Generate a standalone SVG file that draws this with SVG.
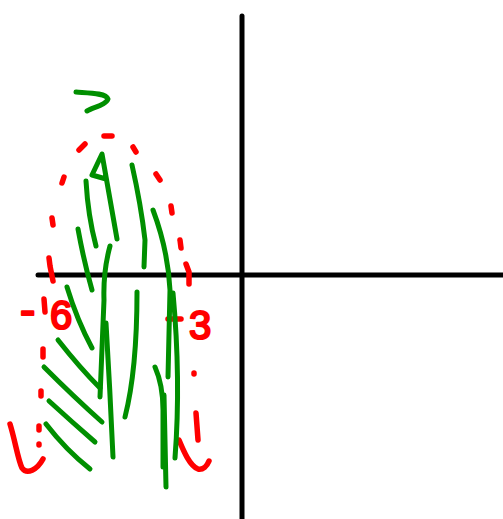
<svg xmlns="http://www.w3.org/2000/svg" width="503" height="519" viewBox="0 0 503 519">
<style>
.ax{stroke:#000;stroke-width:5;stroke-linecap:round;fill:none}
.r{stroke:#ff0000;stroke-width:5.5;stroke-linecap:round;stroke-linejoin:round;fill:none}
.g{stroke:#008f00;stroke-width:5;stroke-linecap:round;stroke-linejoin:round;fill:none}
.t{fill:#ff0000;stroke:#ff0000;stroke-width:2.2;stroke-linejoin:round;font-family:"Liberation Sans",Arial,sans-serif;font-size:40px}
</style>
<rect width="503" height="519" fill="#fff"/>
<g id="axes">
<line class="ax" x1="242" y1="16" x2="242" y2="519"/>
<line class="ax" x1="38" y1="275" x2="503" y2="275"/>
</g>
<g id="parabola">
<path class="r" d="M104,136 L112,136"/>
<path class="r" d="M79,150 L85,144"/>
<path class="r" d="M62,183 L64,177"/>
<path class="r" d="M52,218 L53,225"/>
<path class="r" d="M49,258 L50,266 L53,281"/>
<path class="r" d="M44,299 L45,312"/>
<path class="r" d="M43,349 L43,357"/>
<path class="r" d="M41,391 L41,396"/>
<path class="r" d="M39,426 L39,430"/>
<path class="r" d="M39,444 L39,445"/>
<path class="r" d="M10,424 C15,440 18,460 22,468 C27,475 37,470 43,459"/>
<path class="r" d="M133,147 L136,152"/>
<path class="r" d="M156,174 L160,180"/>
<path class="r" d="M171,206 L172,213"/>
<path class="r" d="M180,240 L181,248"/>
<path class="r" d="M186,264 L189,272 L189,284"/>
<path class="r" d="M194,373 L194,374"/>
<path class="r" d="M196,413 L198,440"/>
<path class="r" d="M179,440 C184,452 190,466 198,469 C203,470 207,466 209,461"/>
<path class="r" d="M168,319 L181,319"/>
</g>
<g id="labels">
<text class="t"><tspan x="20" y="326" font-size="46">-</tspan><tspan x="50" y="329">6</tspan></text>
<text class="t" x="189" y="339">3</text>
</g>
<g id="shading">
<path class="g" d="M76,92 C90,93 106,93 108,99 C106,105 94,107 87,111"/>
<path class="g" d="M117,239 L102,154 L92,175 L106,179"/>
<path class="g" d="M86,181 Q88,216 96,246"/>
<path class="g" d="M78,229 Q84,262 92,290"/>
<path class="g" d="M110,246 Q103,272 104,300 L100,397"/>
<path class="g" d="M106,323 Q110,390 113,457"/>
<path class="g" d="M132,165 Q141,205 145,240 L144,267"/>
<path class="g" d="M153,210 Q168,250 170,290 L168,377"/>
<path class="g" d="M173,293 Q181,380 175,458"/>
<path class="g" d="M137,292 Q137,370 125,417"/>
<path class="g" d="M67,287 Q77,320 92,348"/>
<path class="g" d="M58,340 Q80,368 100,388"/>
<path class="g" d="M44,367 Q75,398 102,422"/>
<path class="g" d="M49,401 Q72,422 95,442"/>
<path class="g" d="M46,424 Q66,450 90,469"/>
<path class="g" d="M155,367 Q163,385 163,410 L163,467"/>
<path class="g" d="M164,395 L166,487"/>
</g>
</svg>
